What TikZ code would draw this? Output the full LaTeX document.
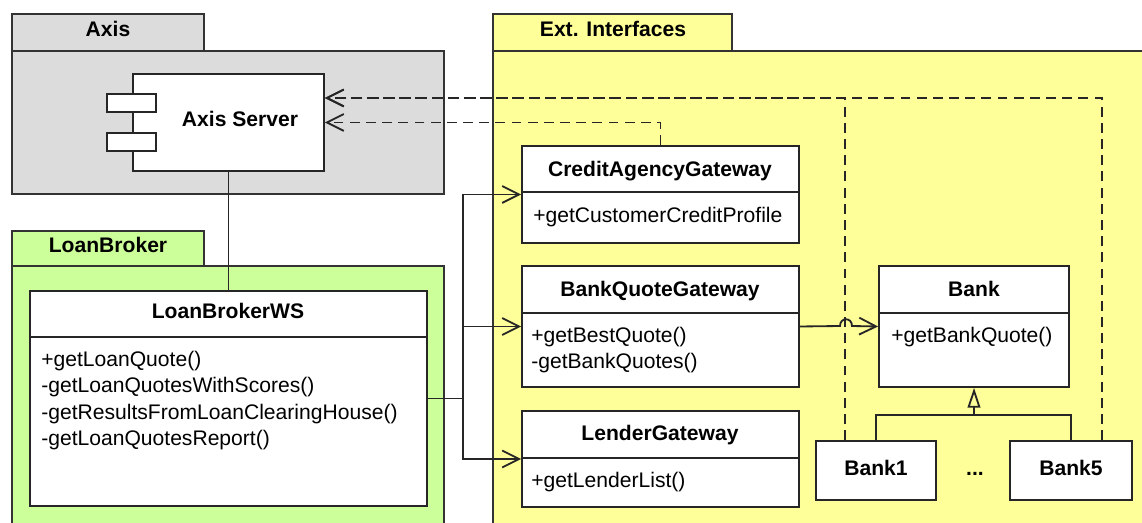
\documentclass[tikz,border=0pt]{standalone}
\usepackage{fontspec}
\setmainfont{Liberation Sans}
\usetikzlibrary{arrows.meta, positioning, fit, calc}
\definecolor{PkgGray}{HTML}{DCDCDC}
\definecolor{PkgGreen}{HTML}{CCFF99}
\definecolor{PkgYellow}{HTML}{FFFF99}

\tikzset{
    pkg/.style={draw=black!80, line width=1.3pt, inner sep=0pt},
    pkglabel/.style={font=\fontsize{15}{18}\selectfont\bfseries, anchor=base, inner sep=0pt},
    classbox/.style={draw=black!85, fill=white, line width=1.3pt, inner sep=0pt},
    classline/.style={draw=black!85, line width=1.3pt},
    classname/.style={font=\fontsize{15}{18}\selectfont\bfseries, anchor=base, inner sep=0pt},
    oper/.style={font=\fontsize{15}{18}\selectfont, anchor=base west, inner sep=0pt},
    link/.style={draw=black!85, line width=1.3pt},
    assoc/.style={link, -{Straight Barb[length=12pt, width=12pt]}},
    dep/.style={assoc, dash pattern=on 7pt off 4.5pt},
    gen/.style={link, -{Triangle[open, length=14pt, width=9pt]}},
}

\begin{document}
\begin{tikzpicture}[x=0.025cm, y=-0.025cm]

    \useasboundingbox (0,0) rectangle (1142,523);
    \clip (0,0) rectangle (1142,523);

    % === Packages ===
    \node[pkg, fill=PkgGray, fit={(12,14) (204,51)}] (axistab) {};
    \node[pkg, fill=PkgGray, fit={(12,51) (444,194)}] (axispkg) {};
    \node[pkglabel] (axislbl) at (108,37) {Axis};

    \node[pkg, fill=PkgGreen, fit={(12,231) (204,266)}] (brokertab) {};
    \node[pkg, fill=PkgGreen, fit={(12,266) (444,540)}] (brokerpkg) {};
    \node[pkglabel] (brokerlbl) at (108,253) {LoanBroker};

    \node[pkg, fill=PkgYellow, fit={(493,14) (732,51)}] (exttab) {};
    \node[pkg, fill=PkgYellow, fit={(493,51) (1160,540)}] (extpkg) {};
    \node[pkglabel] (extlbl) at (613,37) {Ext. Interfaces};

    % === Axis Server component ===
    \node[classbox, fit={(133,74) (324,171)}] (axis) {};
    \node[classbox, fit={(107,94) (156,112)}] (axisport1) {};
    \node[classbox, fit={(107,133) (156,151)}] (axisport2) {};
    \node[classname] (axislabel) at (240,127) {Axis Server};

    % === LoanBrokerWS ===
    \node[classbox, fit={(30,291) (427,506)}] (lbws) {};
    \draw[classline] ($(lbws.north west)+(0,47)$) -- ($(lbws.north east)+(0,47)$);
    \node[classname] (lbws-t) at (228,319) {LoanBrokerWS};
    \node[oper] (lbws-m1) at (41,367) {+getLoanQuote()};
    \node[oper] (lbws-m2) at (41,393) {-getLoanQuotesWithScores()};
    \node[oper] (lbws-m3) at (41,419) {-getResultsFromLoanClearingHouse()};
    \node[oper] (lbws-m4) at (41,445) {-getLoanQuotesReport()};

    % === Gateways ===
    \node[classbox, fit={(522,146) (799,243)}] (cag) {};
    \draw[classline] ($(cag.north west)+(0,47)$) -- ($(cag.north east)+(0,47)$);
    \node[classname] (cag-t) at (660,177) {CreditAgencyGateway};
    \node[oper] (cag-m1) at (533,223) {+getCustomerCreditProfile};

    \node[classbox, fit={(522,266) (799,387)}] (bqg) {};
    \draw[classline] ($(bqg.north west)+(0,48)$) -- ($(bqg.north east)+(0,48)$);
    \node[classname] (bqg-t) at (660,297) {BankQuoteGateway};
    \node[oper] (bqg-m1) at (531,343) {+getBestQuote()};
    \node[oper] (bqg-m2) at (531,369) {-getBankQuotes()};

    \node[classbox, fit={(522,411) (799,507)}] (lender) {};
    \draw[classline] ($(lender.north west)+(0,48)$) -- ($(lender.north east)+(0,48)$);
    \node[classname] (lender-t) at (660,440) {LenderGateway};
    \node[oper] (lender-m1) at (531,487) {+getLenderList()};

    % === Banks ===
    \node[classbox, fit={(879,266) (1069,387)}] (bank) {};
    \draw[classline] ($(bank.north west)+(0,48)$) -- ($(bank.north east)+(0,48)$);
    \node[classname] (bank-t) at (974,297) {Bank};
    \node[oper] (bank-m1) at (891,343) {+getBankQuote()};

    \node[classbox, fit={(816,441) (936,500)}] (bank1) {};
    \node[classname] (bank1-t) at (876,475) {Bank1};
    \node[classbox, fit={(1010,441) (1132,500)}] (bank5) {};
    \node[classname] (bank5-t) at (1071,475) {Bank5};
    \node[classname] (dots) at (975,475) {...};

    % === Connectors ===
    \draw[link] (axis.south) -- (lbws.north);

    \draw[link] (lbws.east) -- ++(35,0) coordinate (fork);
    \draw[assoc] (fork) |- (cag.west);
    \draw[assoc] (fork) |- (bqg.west);
    \draw[assoc] (fork) |- (lender.west);

    % association with a hop over the dashed line
    \coordinate (hop) at (846,326);
    \draw[assoc] (bqg.east) -- ($(hop)+(-6,0)$)
        .. controls ($(hop)+(-6,-9)$) and ($(hop)+(6,-9)$) .. ($(hop)+(6,0)$)
        -- (bank.west);

    % generalization
    \coordinate (genrow) at (0,415);
    \draw[link] (bank1.north) -- (bank1.north |- genrow) -- (bank5.north |- genrow) -- (bank5.north);
    \draw[gen] (bank.south |- genrow) -- (bank.south);

    % dependencies on the Axis Server
    \coordinate (deprow) at (0,98);
    \draw[dep] ($(bank5.north east)+(-31,0)$) |- (axis.east |- deprow);
    \draw[dep] ($(bank1.north west)+(30,0)$) |- (axis.east |- deprow);
    \draw[dep] (cag.north) |- (axis.east);

\end{tikzpicture}
\end{document}
